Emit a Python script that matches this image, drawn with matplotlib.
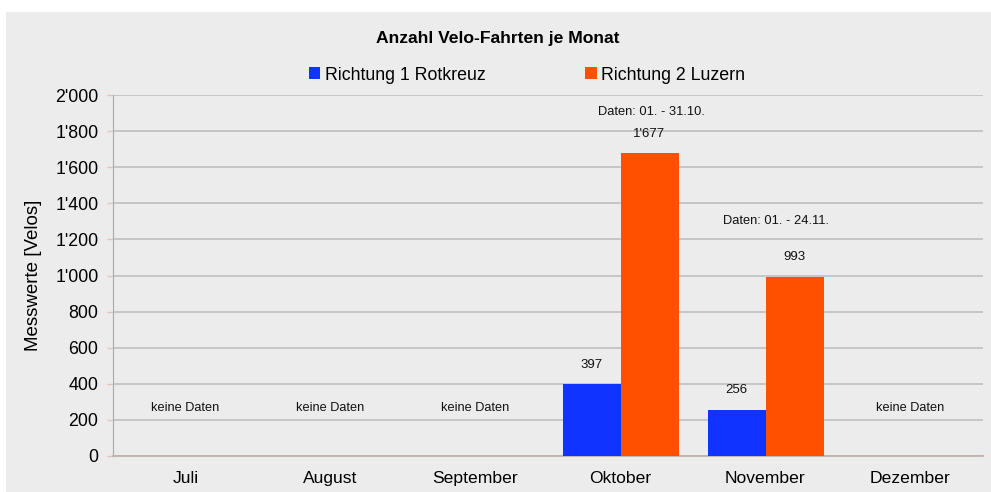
import numpy as np
import matplotlib.pyplot as plt
from matplotlib.patches import Rectangle

plt.rcParams['font.family'] = ['Liberation Sans', 'DejaVu Sans']

# Data
months = ['Juli', 'August', 'September', 'Oktober', 'November', 'Dezember']
rotkreuz = [np.nan, np.nan, np.nan, 397, 256, np.nan]
luzern = [np.nan, np.nan, np.nan, 1677, 993, np.nan]
no_data_months = ['Juli', 'August', 'September', 'Dezember']
notes = {'Oktober': 'Daten: 01. - 31.10.', 'November': 'Daten: 01. - 24.11.'}
note_levels = {'Oktober': 1905, 'November': 1300}
note_shift = {'Oktober': 0.21, 'November': 0.07}

blue = '#1033ff'
orange = '#ff5000'
bg = '#ececec'


def swiss(v):
    return '{:,}'.format(int(v)).replace(',', "'")


fig = plt.figure(figsize=(9.91, 4.92), dpi=100, facecolor='white')
# grey chart area (leaves a thin white strip at top and left)
fig.patches.append(Rectangle((6 / 991, 0), 1, 1 - 12 / 492, transform=fig.transFigure,
                             facecolor=bg, edgecolor='none', zorder=-10))

ax = fig.add_axes([113 / 991, (492 - 456) / 492, 870 / 991, 361 / 492])
ax.set_facecolor(bg)

x = np.arange(len(months))
w = 0.4
ax.bar(x - w / 2, rotkreuz, w, color=blue, label='Richtung 1 Rotkreuz', zorder=3)
ax.bar(x + w / 2, luzern, w, color=orange, label='Richtung 2 Luzern', zorder=3)

# value labels
for xi, v in zip(x, rotkreuz):
    if not np.isnan(v):
        ax.annotate(swiss(v), (xi - w / 2, v), xytext=(0, 14), textcoords='offset points',
                    ha='center', va='center', fontsize=9.5, color='#111111')
for xi, v in zip(x, luzern):
    if not np.isnan(v):
        ax.annotate(swiss(v), (xi + w / 2, v), xytext=(0, 14), textcoords='offset points',
                    ha='center', va='center', fontsize=9.5, color='#111111')

for m in no_data_months:
    ax.text(months.index(m), 265, 'keine Daten', ha='center', va='center', fontsize=9.2, color='#111111')

for m, t in notes.items():
    ax.text(months.index(m) + note_shift[m], note_levels[m], t, ha='center', va='center',
            fontsize=9.3, color='#111111')

ax.set_xlim(-0.5, len(months) - 0.5)
ax.set_ylim(0, 2000)
ax.set_yticks(np.arange(0, 2001, 200))
ax.set_yticklabels([swiss(v) for v in np.arange(0, 2001, 200)], fontsize=12.8)
ax.set_xticks(x)
ax.set_xticklabels(months, fontsize=12.6)
ax.tick_params(axis='x', length=0, pad=11)
ax.tick_params(axis='y', length=4.5, width=1, color='#e8c4b8', pad=6)

ax.grid(axis='y', color='#c2c2c2', linewidth=1.3, zorder=0)
ax.set_axisbelow(True)
for s in ['top', 'right']:
    ax.spines[s].set_visible(False)
ax.spines['left'].set_color('#a8a8a8')
ax.spines['bottom'].set_color('#bfb2ae')
ax.spines['bottom'].set_linewidth(1.3)

ax.set_ylabel('Messwerte [Velos]', fontsize=13.5)
ax.yaxis.set_label_coords(-71 / 870, 0.5)

fig.text(498 / 991, 1 - 39 / 492, 'Anzahl Velo-Fahrten je Monat', ha='center', va='center',
         fontsize=12.6, fontweight='bold')

fig.legend(loc='center', bbox_to_anchor=(527 / 991, 1 - 75 / 492), ncol=2, frameon=False,
           fontsize=12.8, handlelength=0.65, handleheight=0.65, handletextpad=0.25,
           columnspacing=5.6)

plt.savefig('out.png', dpi=100, facecolor=fig.get_facecolor())
